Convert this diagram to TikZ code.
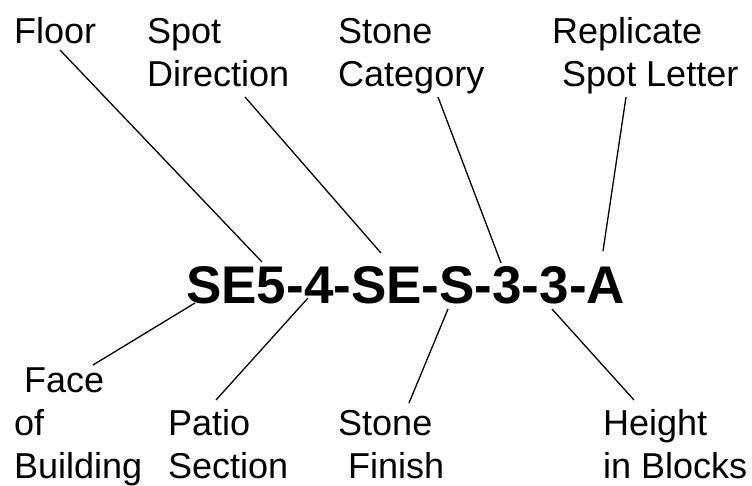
\documentclass[tikz,border=0pt]{standalone}
\usepackage{fontspec}
\setmainfont{Liberation Sans}
\begin{document}
\begin{tikzpicture}[x=1pt,y=-1pt,
  lbl/.style={anchor=base west,inner sep=0pt,align=left,font=\fontsize{36}{43}\selectfont},
  code/.style={anchor=base west,inner sep=0pt,font=\fontsize{53}{60}\selectfont\bfseries},
  conn/.style={line width=1.3pt,black}]
\useasboundingbox (0,0) rectangle (752,485);
\node[code] (code) at (186,303) {SE5-4-SE-S-3-3-A};
% top labels (anchored at the baseline of the last line)
\node[lbl] (floor) at (14,43) {Floor};
\node[lbl] (spotdir) at (147,86) {Spot\\Direction};
\node[lbl] (stonecat) at (338,86) {Stone\\Category};
\node[lbl] (repl) at (552,86) {Replicate\\\mbox{}\ Spot Letter};
% bottom labels
\node[lbl] (face) at (14,478) {\mbox{}\ Face\\of\\Building};
\node[lbl] (patio) at (168,478) {Patio\\Section};
\node[lbl] (finish) at (338,478) {Stone\\\mbox{}\ Finish};
\node[lbl] (height) at (603,478) {Height\\in Blocks};
% connector end points
\coordinate (floorA) at (60,50);   \coordinate (floorB) at (262,262);
\coordinate (spotA) at (245,97);   \coordinate (spotB) at (381,253);
\coordinate (catA) at (438,97);    \coordinate (catB) at (501,263);
\coordinate (replA) at (626,97);   \coordinate (replB) at (603,251);
\coordinate (faceA) at (195,303);  \coordinate (faceB) at (93,365);
\coordinate (patioA) at (308,298); \coordinate (patioB) at (216,400);
\coordinate (finA) at (448,309);   \coordinate (finB) at (409,403);
\coordinate (hgtA) at (552,309);   \coordinate (hgtB) at (634,400);
\draw[conn] (floorA) -- (floorB);
\draw[conn] (spotA) -- (spotB);
\draw[conn] (catA) -- (catB);
\draw[conn] (replA) -- (replB);
\draw[conn] (faceA) -- (faceB);
\draw[conn] (patioA) -- (patioB);
\draw[conn] (finA) -- (finB);
\draw[conn] (hgtA) -- (hgtB);
\end{tikzpicture}
\end{document}
